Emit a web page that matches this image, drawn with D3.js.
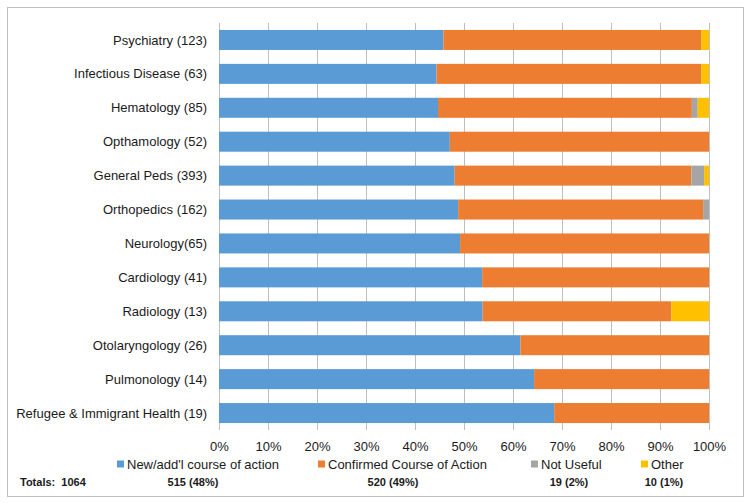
<!DOCTYPE html>
<html><head><meta charset="utf-8">
<script src="https://cdn.jsdelivr.net/npm/d3@7"></script>
<style>body{margin:0;background:#fff}svg{display:block}text{font-family:"Liberation Sans",Arial,sans-serif;white-space:pre}</style>
</head><body><svg id="c" width="751" height="504"></svg>
<script>
const categories = ["Psychiatry (123)","Infectious Disease (63)","Hematology (85)","Opthamology (52)","General Peds (393)","Orthopedics (162)","Neurology(65)","Cardiology (41)","Radiology (13)","Otolaryngology (26)","Pulmonology (14)","Refugee & Immigrant Health (19)"];
const seriesNames = ["New/add'l course of action","Confirmed Course of Action","Not Useful","Other"];
const newAction  = [45.8,44.4,44.7,47.1,48.1,48.8,49.2,53.7,53.8,61.5,64.3,68.4];
const confirmed  = [52.6,54.0,51.8,52.9,48.3,50.0,50.8,46.3,38.5,38.5,35.7,31.6];
const notUseful  = [0,0,1.2,0,2.6,1.2,0,0,0,0,0,0];
const other      = [1.6,1.6,2.3,0,1.0,0,0,0,7.7,0,0,0];
const tickLabels = ["0%","10%","20%","30%","40%","50%","60%","70%","80%","90%","100%"];
const totalsLabel = "Totals:  1064";
const totals = ["515 (48%)","520 (49%)","19 (2%)","10 (1%)"];
const colors = ["#5B9BD5","#ED7D31","#A5A5A5","#FFC000"];

const svg = d3.select("#c");
svg.append("rect").attr("x",7.5).attr("y",7.5).attr("width",736).attr("height",489)
  .attr("fill","#fff").attr("stroke","#BFBFBF").attr("stroke-width",1);

const x = d3.scaleLinear().domain([0,100]).range([219,709]);
const y = d3.scaleBand().domain(categories).range([23,430]).paddingInner(0.41).paddingOuter(0.205);

// gridlines
svg.append("g").selectAll("line").data(d3.range(0,101,10)).join("line")
  .attr("x1",d=>x(d)+0.5).attr("x2",d=>x(d)+0.5).attr("y1",23).attr("y2",430)
  .attr("stroke","#BFBFBF").attr("stroke-width",1);

const rows = categories.map((c,i)=>({cat:c, vals:[newAction[i],confirmed[i],notUseful[i],other[i]]}));
const stack = d3.stack().keys([0,1,2,3]).value((d,k)=>d.vals[k]);
const layers = stack(rows);
svg.append("g").selectAll("g").data(layers).join("g").attr("fill",(d,i)=>colors[i])
  .selectAll("rect").data(d=>d).join("rect")
  .attr("x",d=>x(d[0])).attr("width",d=>Math.max(0,x(Math.min(100,d[1]))-x(d[0])))
  .attr("y",d=>y(d.data.cat)).attr("height",y.bandwidth());

// category labels
svg.append("g").selectAll("text").data(categories).join("text")
  .attr("x",207).attr("y",d=>y(d)+y.bandwidth()/2).attr("dy","0.35em")
  .attr("text-anchor","end").attr("font-size",13).attr("fill","#1a1a1a").text(d=>d);

// x tick labels
const xAxis = d3.axisBottom(x).tickValues(d3.range(0,101,10)).tickFormat((d,i)=>tickLabels[i]).tickSize(0).tickPadding(0);
const ax = svg.append("g").attr("transform","translate(0,442)").call(xAxis);
ax.select(".domain").remove();
ax.selectAll("text").attr("font-size",13).attr("fill","#1a1a1a").attr("font-family","Liberation Sans, Arial, sans-serif");

// legend
const legX = [117,318,531,641];
const lg = svg.append("g").selectAll("g").data(seriesNames).join("g")
  .attr("transform",(d,i)=>`translate(${legX[i]},464)`);
lg.append("rect").attr("x",0).attr("y",-3.5).attr("width",7).attr("height",7).attr("fill",(d,i)=>colors[i]);
lg.append("text").attr("x",10).attr("dy","0.35em").attr("font-size",13).attr("fill","#1a1a1a").text(d=>d);

// totals
svg.append("text").attr("x",20).attr("y",482).attr("dy","0.35em").attr("font-size",11).attr("font-weight","bold").attr("fill","#1a1a1a").text(totalsLabel);
const totX = [193,393,569,664];
svg.append("g").selectAll("text").data(totals).join("text")
  .attr("x",(d,i)=>totX[i]).attr("y",482).attr("dy","0.35em").attr("text-anchor","middle")
  .attr("font-size",11).attr("font-weight","bold").attr("fill","#1a1a1a").text(d=>d);
</script></body></html>
